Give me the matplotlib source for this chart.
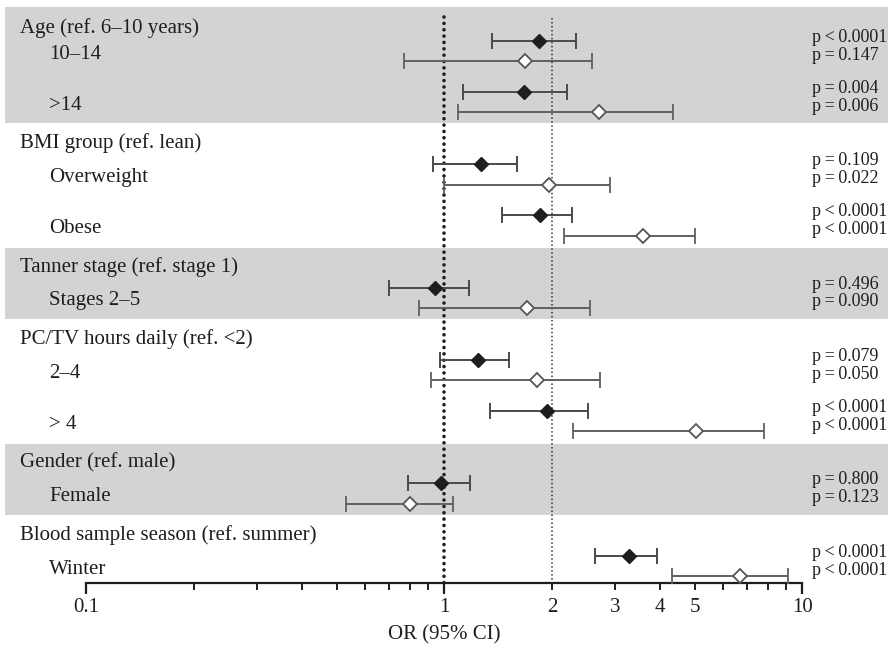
import numpy as np
import matplotlib
matplotlib.use("Agg")
from matplotlib import pyplot as plt

plt.rcParams['font.family'] = ['Liberation Serif', 'DejaVu Serif']

groups = ["Age (ref. 6\u201310 years)", "BMI group (ref. lean)", "Tanner stage (ref. stage 1)",
          "PC/TV hours daily (ref. <2)", "Gender (ref. male)", "Blood sample season (ref. summer)"]
subgroups = [["10\u201314", ">14"], ["Overweight", "Obese"], ["Stages 2\u20135"],
             ["2\u20134", "> 4"], ["Female"], ["Winter"]]
shaded = [True, False, True, False, True, False]

# filled diamonds (first model) and open diamonds (second model)
or_filled = [1.84, 1.67, 1.27, 1.85, 0.94, 1.24, 1.93, 0.98, 3.28]
lo_filled = [1.36, 1.13, 0.93, 1.45, 0.70, 0.97, 1.34, 0.79, 2.64]
hi_filled = [2.33, 2.20, 1.60, 2.28, 1.17, 1.52, 2.52, 1.18, 3.92]
or_open = [1.68, 2.71, 1.96, 3.60, 1.70, 1.82, 5.05, 0.80, 6.70]
lo_open = [0.77, 1.09, 1.00, 2.16, 0.85, 0.92, 2.29, 0.53, 4.32]
hi_open = [2.59, 4.35, 2.90, 5.01, 2.55, 2.72, 7.82, 1.06, 9.10]

ts = "\u2009"
p_filled = ["p<0.0001", "p=0.004", "p=0.109", "p<0.0001", "p=0.496",
            "p=0.079", "p<0.0001", "p=0.800", "p<0.0001"]
p_open = ["p=0.147", "p=0.006", "p=0.022", "p<0.0001", "p=0.090",
          "p=0.050", "p<0.0001", "p=0.123", "p<0.0001"]

tick_major = [0.1, 1, 10]
tick_labeled = [2, 3, 4, 5]

# layout (pixel based)
W, H = 888, 649
row_px = 51.0
axis_px = 583
x1_px, decade_px = 444.3, 358.0
band_col = "#d3d3d5"
txt_col = "#1e1e1e"
fs = 15

fig = plt.figure(figsize=(W / 100, H / 100), dpi=100)
ax = fig.add_axes([0, 1 - axis_px / H, 1, axis_px / H])
ax.set_xscale("log")
ax.set_xlim(10 ** (-x1_px / decade_px), 10 ** ((W - x1_px) / decade_px))
ax.set_ylim(axis_px / row_px, 0)

# row centres
centres = []
heads = []
y = 0.0
for g, subs in enumerate(subgroups):
    if g > 0:
        y += 0.42
    first = y + 1
    for s in subs:
        y += 1
        centres.append(y)
    heads.append((first, y))

tr = ax.get_yaxis_transform()
for g, (first, last) in enumerate(heads):
    if shaded[g]:
        ax.axhspan(max(first - 0.97, 0.14), last + 0.42, xmin=0.006, xmax=1,
                   color=band_col, lw=0, zorder=0)
    ax.text(20 / W, first - (0.45 if g == 0 else 0.61), groups[g], transform=tr,
            fontsize=fs, va="center", ha="left", color=txt_col)

k = 0
for g, subs in enumerate(subgroups):
    for s in subs:
        ax.text(49 / W, centres[k] + 0.06, s, transform=tr, fontsize=fs,
                va="center", ha="left", color=txt_col)
        k += 1

c = np.array(centres)
yf = c - 0.2
yo = c + 0.2
of, lf, hf = np.array(or_filled), np.array(lo_filled), np.array(hi_filled)
oo, lo, ho = np.array(or_open), np.array(lo_open), np.array(hi_open)

# reference lines
ax.vlines(1, 0.33, axis_px / row_px, colors="#1e1e1e", lw=2.6,
          linestyles=[(0, (0.01, 1.75))], capstyle="round", zorder=1)
ax.vlines(2, 0.35, axis_px / row_px, colors="#333333", lw=1.1,
          linestyles=[(0, (1, 1.6))], zorder=1)

ax.errorbar(of, yf, xerr=[of - lf, hf - of], fmt="D", ms=7.5, mfc="#1e1e1e",
            mec="#1e1e1e", ecolor="#4a4a4a", elinewidth=1.4, capsize=5.8,
            capthick=1.4, zorder=3)
ax.errorbar(oo, yo, xerr=[oo - lo, ho - oo], fmt="D", ms=7.5, mfc="white",
            mec="#555555", mew=1.3, ecolor="#606060", elinewidth=1.4,
            capsize=5.8, capthick=1.4, zorder=3)

for i in range(len(centres)):
    ax.text(812 / W, c[i] - 0.27, p_filled[i].replace("<", ts + "<" + ts).replace("=", ts + "=" + ts),
            transform=tr, fontsize=13, va="center", ha="left", color=txt_col)
    ax.text(812 / W, c[i] + 0.08, p_open[i].replace("<", ts + "<" + ts).replace("=", ts + "=" + ts),
            transform=tr, fontsize=13, va="center", ha="left", color=txt_col)

# axis
for sp in ["top", "left", "right"]:
    ax.spines[sp].set_visible(False)
ax.spines["bottom"].set_bounds(0.1, 10)
ax.spines["bottom"].set_linewidth(1.6)
ax.spines["bottom"].set_color("#1e1e1e")
ax.set_facecolor("none")
ax.set_yticks([])
ax.set_xticks(tick_major, ["0.1", "1", "10"])
minor = [m * d for d in [0.1, 1] for m in range(2, 10)]
ax.set_xticks(minor, [str(int(v)) if v in tick_labeled else "" for v in minor], minor=True)
ax.tick_params(axis="x", which="major", length=8, width=1.6, color="#1e1e1e",
               labelsize=fs, labelcolor=txt_col, pad=3)
ax.tick_params(axis="x", which="minor", length=5, width=1.4, color="#1e1e1e",
               labelsize=fs, labelcolor=txt_col, pad=6)
ax.set_xlabel("OR (95% CI)", fontsize=fs, color=txt_col, labelpad=6)

fig.savefig("out.png", dpi=100)
